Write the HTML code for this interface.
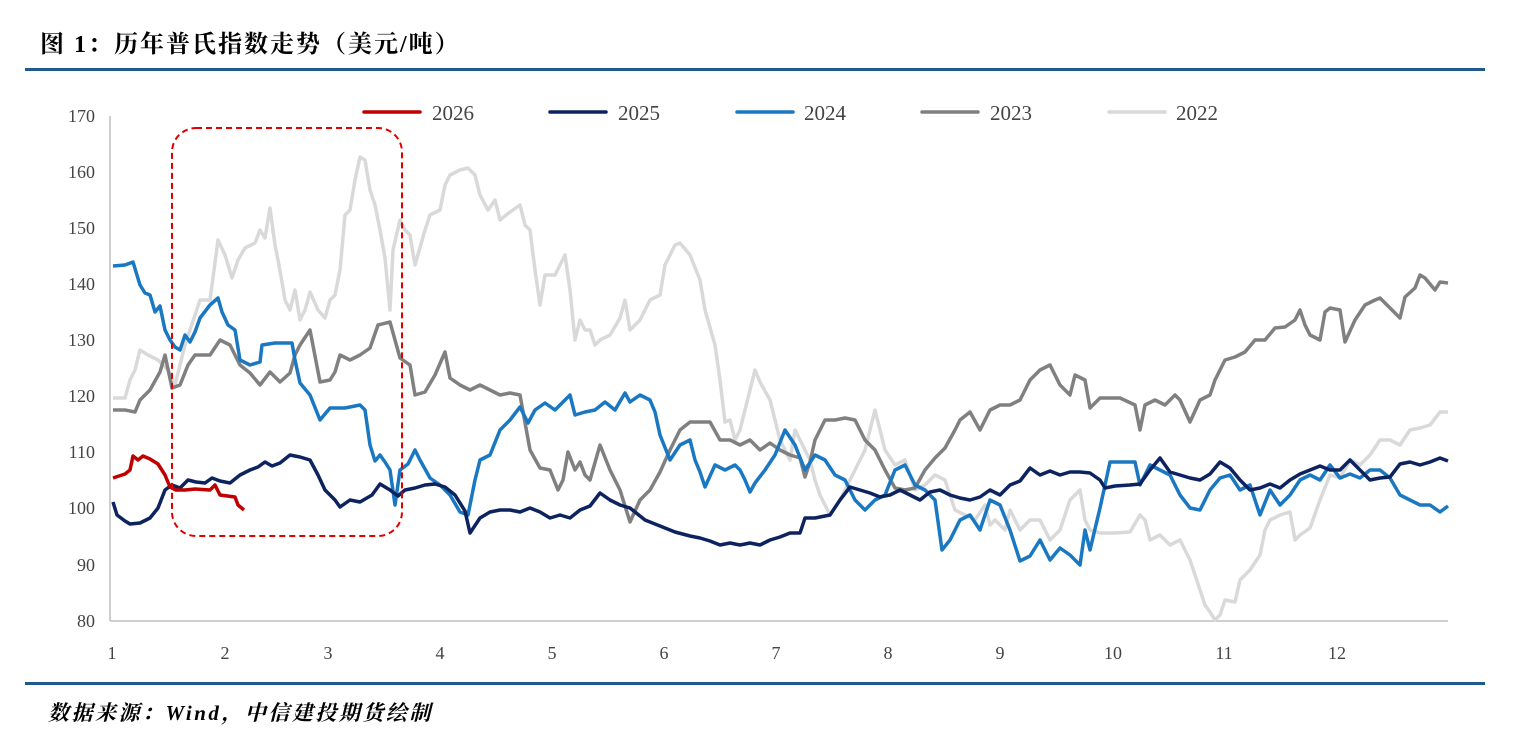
<!DOCTYPE html>
<html><head><meta charset="utf-8"><style>
body{margin:0;background:#fff;width:1516px;height:756px;overflow:hidden}
svg{display:block}
</style></head><body>
<svg width="1516" height="756" xmlns="http://www.w3.org/2000/svg" font-family="Liberation Serif, Noto Serif CJK SC, serif">
<text x="40" y="52" font-size="24" letter-spacing="2" font-weight="bold" fill="#000" font-family="Liberation Serif, Noto Serif CJK SC, serif">图 1：历年普氏指数走势（美元/吨）</text>
<rect x="25" y="68" width="1460" height="3" fill="#1f5a8a"/>
<rect x="25" y="682" width="1460" height="3" fill="#1f5a8a"/>
<text x="48" y="720" font-size="21" letter-spacing="2.5" font-weight="bold" font-style="italic" fill="#000">数据来源：Wind，中信建投期货绘制</text>
<g font-size="18" fill="#444" text-anchor="end">
<text x="95" y="122">170</text><text x="95" y="178">160</text><text x="95" y="234">150</text><text x="95" y="290">140</text><text x="95" y="346">130</text><text x="95" y="402">120</text><text x="95" y="458">110</text><text x="95" y="514">100</text><text x="95" y="571">90</text><text x="95" y="627">80</text>
</g>
<g font-size="18" fill="#444" text-anchor="middle">
<text x="112" y="659">1</text><text x="225" y="659">2</text><text x="328" y="659">3</text><text x="440" y="659">4</text><text x="552" y="659">5</text><text x="664" y="659">6</text><text x="776" y="659">7</text><text x="888" y="659">8</text><text x="1000" y="659">9</text><text x="1113" y="659">10</text><text x="1224" y="659">11</text><text x="1337" y="659">12</text>
</g>
<line x1="110" y1="116" x2="110" y2="621" stroke="#bfbfbf" stroke-width="1.5"/>
<line x1="110" y1="621" x2="1448" y2="621" stroke="#bfbfbf" stroke-width="1.5"/>
<g stroke-width="3.5" stroke-linecap="round">
<line x1="364" y1="112" x2="420" y2="112" stroke="#c00000"/>
<line x1="550" y1="112" x2="606" y2="112" stroke="#0d2360"/>
<line x1="737" y1="112" x2="793" y2="112" stroke="#1a78c2"/>
<line x1="922" y1="112" x2="978" y2="112" stroke="#808080"/>
<line x1="1109" y1="112" x2="1165" y2="112" stroke="#d9d9d9"/>
</g>
<g font-size="21" fill="#444">
<text x="432" y="120">2026</text><text x="618" y="120">2025</text><text x="804" y="120">2024</text><text x="990" y="120">2023</text><text x="1176" y="120">2022</text>
</g>
<g fill="none" stroke-width="3.5" stroke-linejoin="round">
<polyline stroke="#d9d9d9" points="113,398 125,398 130,380 135,370 140,350 148,355 158,360 168,370 175,385 185,345 190,330 200,300 210,300 218,240 225,255 232,278 238,260 245,248 255,243 260,230 265,238 270,208 275,245 278,260 282,282 285,300 290,310 295,290 300,320 305,310 310,292 318,310 325,318 330,300 335,295 340,270 345,215 350,210 355,180 360,157 365,160 370,190 375,205 380,230 385,258 390,310 393,250 400,220 405,230 410,235 415,265 425,230 430,215 440,210 445,185 450,175 460,170 468,168 475,175 480,195 488,210 495,200 500,220 510,212 520,205 525,225 530,230 535,270 540,305 545,275 555,275 560,265 565,255 570,290 575,340 580,320 585,330 590,330 595,345 600,340 610,335 620,318 625,300 630,330 640,320 650,300 660,295 665,265 675,245 680,243 690,255 700,280 705,310 715,345 720,380 725,422 730,420 735,440 740,430 745,410 750,390 755,370 760,382 770,400 775,420 780,440 790,460 795,430 800,440 810,460 815,480 820,495 830,515 840,500 850,480 855,470 865,450 870,430 875,410 880,430 885,450 895,465 905,460 915,490 925,485 935,475 945,480 955,510 965,515 975,520 985,505 990,525 995,520 1005,530 1010,510 1020,530 1030,520 1040,520 1050,540 1060,530 1070,500 1080,490 1085,520 1090,530 1100,533 1115,533 1130,532 1140,515 1145,520 1150,540 1160,535 1170,545 1180,540 1190,560 1200,590 1205,605 1210,612 1215,620 1220,615 1225,600 1235,602 1240,580 1250,570 1260,555 1265,530 1270,520 1280,515 1290,512 1295,540 1300,535 1310,528 1320,500 1330,475 1340,478 1350,460 1360,465 1370,455 1380,440 1390,440 1400,445 1410,430 1420,428 1430,425 1440,412 1448,412"/>
<polyline stroke="#808080" points="113,410 125,410 135,412 140,400 150,390 160,372 165,355 172,388 180,385 188,365 195,355 210,355 220,340 230,345 240,365 250,373 260,385 270,372 280,382 290,373 295,355 300,345 310,330 320,382 330,380 335,372 340,355 350,360 360,355 370,348 378,325 390,322 395,340 400,358 410,365 415,395 425,392 435,375 445,352 450,378 460,385 470,390 480,385 490,390 500,395 510,393 520,395 530,450 540,468 550,470 558,490 563,480 568,452 575,470 580,462 585,475 590,480 600,445 610,470 620,490 630,522 640,500 650,490 660,472 670,450 680,430 690,422 700,422 710,422 720,440 730,440 740,445 750,440 760,450 770,443 780,450 790,455 800,458 805,477 810,462 815,440 825,420 835,420 845,418 855,420 865,440 875,450 885,470 895,488 905,490 915,488 925,470 935,458 945,448 955,430 960,420 970,412 980,430 990,410 1000,405 1010,405 1020,400 1030,380 1040,370 1050,365 1055,375 1060,385 1070,395 1075,375 1085,380 1090,408 1100,398 1110,398 1120,398 1135,405 1140,430 1145,405 1155,400 1165,405 1175,395 1180,400 1190,422 1200,400 1210,395 1215,380 1225,360 1235,357 1245,352 1255,340 1265,340 1275,328 1285,327 1295,320 1300,310 1305,325 1310,335 1320,340 1325,312 1330,308 1340,310 1345,342 1355,320 1365,305 1375,300 1380,298 1390,308 1400,318 1405,297 1415,288 1420,275 1425,278 1435,290 1440,282 1448,283"/>
<polyline stroke="#1a78c2" points="113,266 125,265 133,262 140,285 145,293 150,295 155,312 160,306 165,330 170,340 175,347 180,350 185,335 190,342 195,332 200,318 210,305 218,298 222,312 228,325 235,330 240,360 250,365 260,362 262,345 275,343 285,343 292,343 295,360 300,383 310,395 320,420 330,408 345,408 360,405 365,410 370,445 375,461 380,455 385,462 390,470 395,505 400,470 408,464 415,450 420,460 430,478 440,485 450,495 460,512 468,515 475,480 480,460 490,455 500,430 510,420 520,407 528,423 535,410 545,403 555,410 570,395 575,415 585,412 595,410 605,402 615,410 625,393 630,402 640,395 650,400 655,412 660,435 670,460 680,445 690,440 695,460 700,472 705,487 715,465 725,470 735,465 740,470 745,480 750,492 755,483 765,470 775,455 785,430 795,445 805,470 815,455 825,460 835,475 845,480 855,500 865,510 875,500 885,495 895,470 905,465 915,485 925,490 935,500 942,550 950,540 960,520 970,515 980,530 990,500 1000,505 1010,530 1020,561 1030,556 1040,540 1050,560 1060,548 1070,555 1080,565 1085,530 1090,550 1100,508 1110,462 1120,462 1135,462 1140,485 1150,465 1160,470 1170,475 1180,495 1190,508 1200,510 1210,490 1220,478 1230,475 1240,490 1250,485 1260,515 1270,490 1280,505 1290,495 1300,480 1310,475 1320,480 1330,465 1340,478 1350,474 1360,478 1370,470 1380,470 1390,478 1400,495 1410,500 1420,505 1430,505 1440,512 1448,506"/>
<polyline stroke="#0d2360" points="113,502 117,515 125,521 130,524 140,523 150,518 158,508 165,490 172,485 180,488 188,480 196,482 205,483 212,478 220,481 230,483 240,475 250,470 258,467 265,462 272,466 280,463 290,455 300,457 310,460 318,475 325,490 335,500 340,507 350,500 360,502 372,495 380,484 390,490 398,496 405,490 415,488 425,485 435,484 445,487 455,495 465,511 470,533 480,518 490,512 500,510 510,510 520,512 530,508 540,512 550,518 560,515 570,518 580,510 590,506 600,493 610,500 620,505 630,508 645,520 660,526 675,532 690,536 700,538 710,541 720,545 730,543 740,545 750,543 760,545 770,540 780,537 790,533 800,533 805,518 815,518 830,515 840,500 850,487 860,490 870,493 880,497 890,495 900,490 910,495 920,500 930,492 940,490 950,495 960,498 970,500 980,497 990,490 1000,495 1010,485 1020,481 1030,468 1040,475 1050,471 1060,475 1070,472 1080,472 1090,473 1100,480 1105,488 1115,486 1130,485 1140,484 1150,470 1160,458 1170,472 1180,475 1190,478 1200,480 1210,474 1220,462 1230,468 1240,480 1250,490 1260,488 1270,484 1280,488 1290,480 1300,474 1310,470 1320,466 1330,470 1340,470 1350,460 1360,470 1370,480 1380,478 1390,477 1400,464 1410,462 1420,465 1430,462 1440,458 1448,461"/>
<polyline stroke="#c00000" points="113,478 125,474 130,470 133,456 138,460 143,456 150,459 158,464 165,475 170,487 176,490 185,490 195,489 210,490 215,485 220,495 235,497 238,505 244,510"/>
</g>
<rect x="172" y="128" width="230" height="408" rx="24" ry="24" fill="none" stroke="#e00000" stroke-width="2" stroke-dasharray="6,4"/>
</svg>
</body></html>
